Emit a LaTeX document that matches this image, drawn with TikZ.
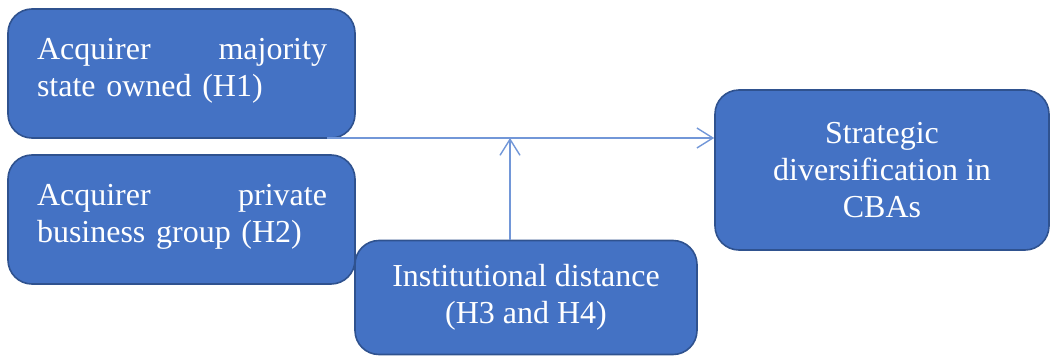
\documentclass[tikz,border=0pt]{standalone}
\usepackage{fontspec}
\setmainfont{Liberation Serif}
\usetikzlibrary{arrows.meta,shapes.misc}
\definecolor{boxfill}{HTML}{4472C4}
\definecolor{boxline}{HTML}{2F528F}
\definecolor{linkcol}{RGB}{114,151,216}

\begin{document}
\begin{tikzpicture}[x=1pt,y=-1pt,
  box/.style={rectangle,rounded corners=24pt,fill=boxfill,draw=boxline,line width=1.6pt,
    text=white,font=\fontsize{32}{37}\selectfont,inner sep=0pt},
  lbl/.style={text=white,font=\fontsize{32}{37}\selectfont,text width=290pt,align=left,inner sep=0pt},
  link/.style={draw=linkcol,line width=1.4pt,-{Straight Barb[length=16pt,width=20pt,line width=1.4pt]}}]
\useasboundingbox (0,0) rectangle (1050,356);
\node[box,minimum width=347pt,minimum height=129pt] (1) at (181.5,73.5) {};
\node[box,minimum width=347pt,minimum height=129pt] (2) at (181.5,219.5) {};
\node[box,minimum width=342pt,minimum height=114pt,align=center] (3) at (526,297.5)
  {Institutional distance\\(H3 and H4)};
\node[box,minimum width=334pt,minimum height=160pt,align=center] (4) at (882,170)
  {Strategic\\diversification in\\CBAs};
\node[lbl] (t1) at (182,71) {Acquirer\hfill majority\\state owned (H1)};
\node[lbl] (t2) at (182,217) {Acquirer\hfill private\\business group (H2)};
\coordinate (j) at (510,138);
\coordinate (s) at (327,138);
\path
(s) edge[link] (s -| 4.west)
(3.north -| j) edge[link] (j)
;
\end{tikzpicture}
\end{document}
